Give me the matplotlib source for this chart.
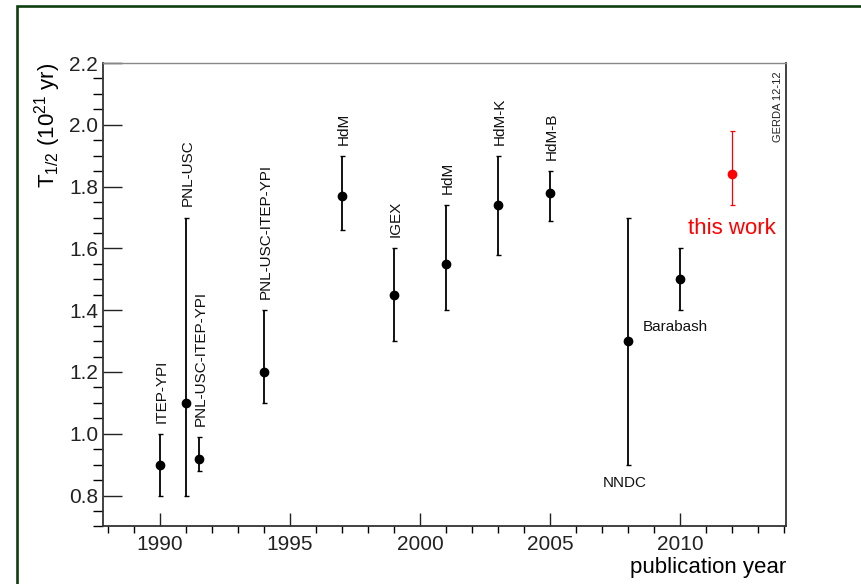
import matplotlib
matplotlib.use("Agg")
import matplotlib.pyplot as plt
from matplotlib.patches import Rectangle
from matplotlib.ticker import MultipleLocator

plt.rcParams['font.family'] = ['Liberation Sans', 'DejaVu Sans']
plt.rcParams['mathtext.fontset'] = 'custom'
plt.rcParams['mathtext.rm'] = 'Liberation Sans'
plt.rcParams['mathtext.default'] = 'regular'

# earlier measurements of the half life
years = [1990, 1991, 1991.5, 1994, 1997, 1999, 2001, 2003, 2005, 2008, 2010]
t_half = [0.90, 1.10, 0.92, 1.20, 1.77, 1.45, 1.55, 1.74, 1.78, 1.30, 1.50]
err_lo = [0.10, 0.30, 0.04, 0.10, 0.11, 0.15, 0.15, 0.16, 0.09, 0.40, 0.10]
err_hi = [0.10, 0.60, 0.07, 0.20, 0.13, 0.15, 0.19, 0.16, 0.07, 0.40, 0.10]
labels = ["ITEP-YPI", "PNL-USC", "PNL-USC-ITEP-YPI", "PNL-USC-ITEP-YPI", "HdM",
          "IGEX", "HdM", "HdM-K", "HdM-B", "NNDC", "Barabash"]
below = {"NNDC": (-2, -8), "Barabash": (-3, -7)}

# this measurement
gerda_year = [2012]
gerda_t = [1.84]
gerda_lo = [0.10]
gerda_hi = [0.14]


def main():
    fig = plt.figure(figsize=(8.62, 5.84), dpi=100)
    ax = fig.add_axes([0.1195, 0.0985, 0.7929, 0.7936])

    ax.errorbar(years, t_half, yerr=[err_lo, err_hi], fmt='o', color='black',
                markersize=6, elinewidth=1.3, capsize=1.8, capthick=1.0)
    ax.errorbar(gerda_year, gerda_t, yerr=[gerda_lo, gerda_hi], fmt='o', color='red',
                markersize=6, elinewidth=0.9, capsize=1.8, capthick=0.9)

    for x, y, lo, hi, name in zip(years, t_half, err_lo, err_hi, labels):
        if name in below:
            dx, dy = below[name]
            ax.annotate(name, (x, y - lo), xytext=(dx, dy), textcoords='offset points',
                        ha='center', va='top', fontsize=11, color='#111111')
        else:
            ax.annotate(name, (x, y + hi), xytext=(1, 8), textcoords='offset points',
                        ha='center', va='bottom', rotation=90, fontsize=11, color='#111111')

    ax.annotate("this work", (gerda_year[0], gerda_t[0] - gerda_lo[0]), xytext=(0, -9),
                textcoords='offset points', ha='center', va='top', fontsize=16, color='red')

    ax.text(0.988, 0.983, "GERDA 12-12", transform=ax.transAxes, rotation=90,
            ha='center', va='top', fontsize=8, color='#222222')

    ax.set_xlim(1987.8, 2014.1)
    ax.set_ylim(0.7, 2.2)
    ax.xaxis.set_major_locator(MultipleLocator(5))
    ax.xaxis.set_minor_locator(MultipleLocator(1))
    ax.yaxis.set_major_locator(MultipleLocator(0.2))
    ax.yaxis.set_minor_locator(MultipleLocator(0.05))
    ax.yaxis.set_major_formatter(matplotlib.ticker.FormatStrFormatter('%.1f'))

    ax.tick_params(direction='in', top=False, right=False, labelsize=15, colors='#222222')
    ax.tick_params(axis='x', which='major', length=9.5, width=1.0, pad=6)
    ax.tick_params(axis='x', which='minor', length=4.7, width=1.0)
    ax.tick_params(axis='y', which='major', length=14, width=1.0, pad=3.5)
    ax.tick_params(axis='y', which='minor', length=7, width=1.0)

    for side in ['left', 'bottom', 'right']:
        ax.spines[side].set_color('#333333')
        ax.spines[side].set_linewidth(1.3)
    ax.spines['top'].set_color('#888888')
    ax.spines['top'].set_linewidth(1.0)

    ax.set_xlabel("publication year", fontsize=16, loc='right', labelpad=2)
    ax.set_ylabel(r"T$_{1/2}$ (10$^{21}$ yr)", fontsize=16, loc='top', labelpad=4)

    # dark green frame of the canvas, cut at the right and bottom edge
    fig.patches.append(Rectangle((17 / 862, -0.2), 1.2, 1.2 - 6 / 584,
                                 transform=fig.transFigure, fill=False,
                                 edgecolor='#0e3f0e', linewidth=1.9))

    fig.savefig("out.png", dpi=100)


if __name__ == "__main__":
    main()
